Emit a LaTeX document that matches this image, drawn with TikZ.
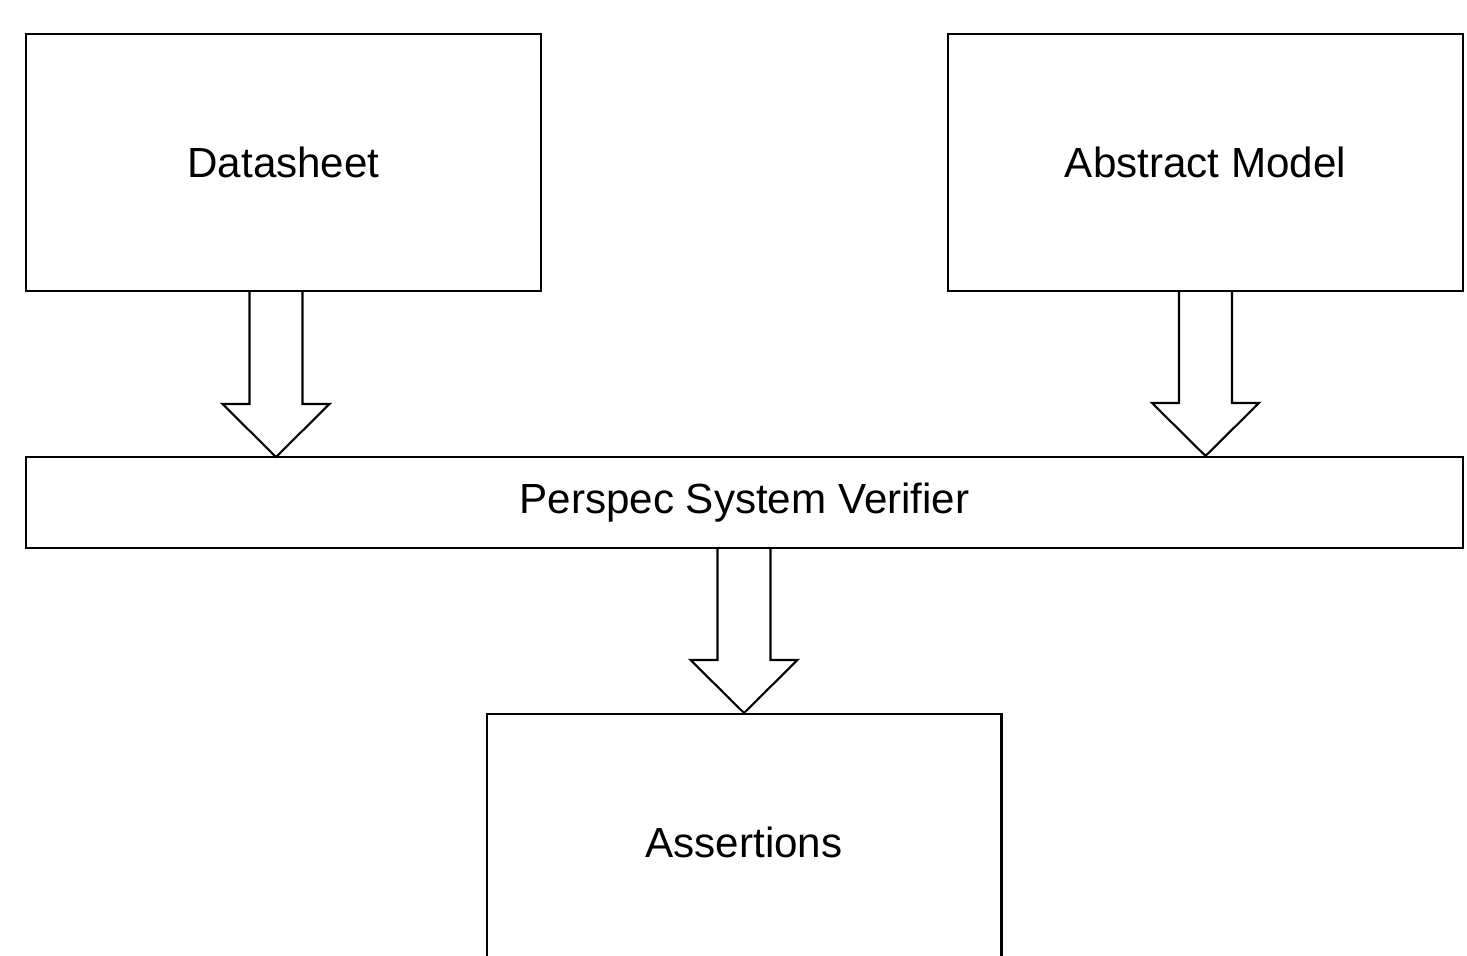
\documentclass[tikz,border=0pt]{standalone}
\usepackage{fontspec}
\setmainfont{Liberation Sans}
\usetikzlibrary{calc}

% hollow block arrow from the point #1 straight down to the tip #2
\newcommand{\hollowarrow}[2]{%
    \draw[blockarrow] let \p1=(#1), \p2=(#2) in
        (\x1-0.53cm,\y1) -- (\x1-0.53cm,\y2+1.06cm) -- (\x1-1.07cm,\y2+1.06cm)
        -- (\x2,\y2)
        -- (\x1+1.07cm,\y2+1.06cm) -- (\x1+0.53cm,\y2+1.06cm) -- (\x1+0.53cm,\y1);}

\tikzset{
    stage/.style={draw, line width=1.2pt, inner sep=0pt,
        minimum width=10.3cm, minimum height=5.14cm,
        font=\fontsize{24}{28}\selectfont},
    wide/.style={stage, minimum width=28.74cm, minimum height=1.82cm},
    blockarrow/.style={draw, line width=1.2pt, fill=white, line join=miter}
}

\begin{document}
\begin{tikzpicture}[x=0.02cm, y=-0.02cm]
        \useasboundingbox (0,0) rectangle (1467,956);
        \clip (0,0) rectangle (1467,956);

        \node[stage] (ds) at (283.5,162.5) {Datasheet};
        \node[stage] (am) at (1205.5,162.5) {Abstract Model};
        \node[wide] (psv) at (744.5,502.5) {Perspec System Verifier};
        \node[stage] (as) at (744,842.5) {Assertions};

        \coordinate (in1) at (276,457);

        \hollowarrow{ds.south -| in1}{in1}
        \hollowarrow{am.south}{psv.north -| am.south}
        \hollowarrow{psv.south -| as.north}{as.north}
    \end{tikzpicture}
\end{document}
